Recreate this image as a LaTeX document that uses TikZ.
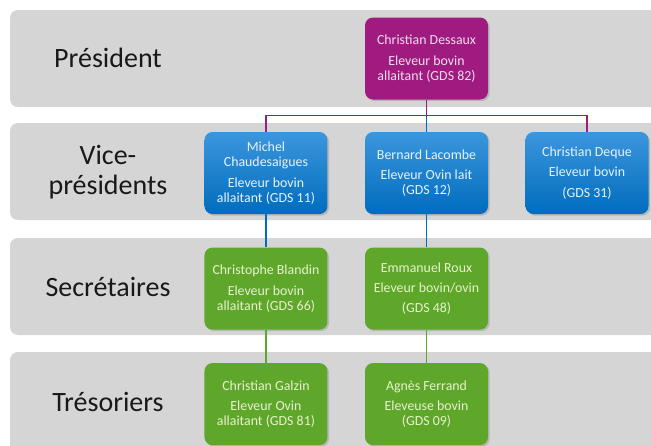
\documentclass[tikz,border=0pt]{standalone}
\usepackage{fontspec}
\setmainfont{Carlito}
\usetikzlibrary{positioning,shadows,calc}
\definecolor{bandgray}{RGB}{214,213,214}
\definecolor{presmag}{RGB}{160,27,128}
\definecolor{vicetop}{RGB}{60,150,220}
\definecolor{vicebot}{RGB}{0,108,190}
\definecolor{secgreen}{RGB}{94,167,43}
\definecolor{labtext}{RGB}{25,25,25}
\tikzset{band/.style={fill=bandgray, rounded corners=6pt}}
\tikzset{rowlabel/.style={text=labtext, font=\fontsize{21}{22}\selectfont, align=center}}
\tikzset{membox/.style={rounded corners=6pt, minimum width=92.25pt, minimum height=61.5pt, align=center, inner sep=0pt, font=\fontsize{10.4}{11.25}\selectfont, drop shadow={opacity=0.35, shadow xshift=1.2pt, shadow yshift=-1.2pt}}}
\tikzset{presbox/.style={membox, fill=presmag, text=white!85!presmag}}
\tikzset{vicebox/.style={membox, top color=vicetop, bottom color=vicebot, text=white!88!vicetop}}
\tikzset{secbox/.style={membox, fill=secgreen, text={rgb,255:red,232;green,242;blue,205}}}
\tikzset{magline/.style={draw=presmag, line width=1pt}}
\tikzset{blueline/.style={draw=vicebot, line width=1pt}}
\tikzset{greenline/.style={draw=secgreen, line width=1pt}}

\begin{document}
\begin{tikzpicture}[x=0.75pt, y=-0.75pt]
	\useasboundingbox (0,0) rectangle (651,446);
	\clip (0,0) rectangle (651,446);
	\fill[band] (10,10) rectangle (680,107);
	\fill[band] (10,123) rectangle (680,220);
	\fill[band] (10,238) rectangle (680,335);
	\fill[band] (10,352) rectangle (680,470);
	\node[rowlabel] (lpres) at (108,58) {Président};
	\node[rowlabel] (lvice) at (108,172) {Vice-\\présidents};
	\node[rowlabel] (lsec) at (108,287) {Secrétaires};
	\node[rowlabel] (ltres) at (108,402) {Trésoriers};
	\node[presbox] (dessaux) at (426.5,58.5) {Christian Dessaux\\[4pt]Eleveur bovin\\allaitant (GDS 82)};
	\node[vicebox, below=24pt of dessaux] (lacombe) {Bernard Lacombe\\[4pt]Eleveur Ovin lait\\(GDS 12)};
	\node[vicebox, left=27.75pt of lacombe] (chaudesaigues) {Michel\\Chaudesaigues\\[4pt]Eleveur bovin\\allaitant (GDS 11)};
	\node[vicebox, right=27.75pt of lacombe] (deque) {Christian Deque\\[4pt]Eleveur bovin\\[4pt](GDS 31)};
	\node[secbox, below=24.75pt of chaudesaigues] (blandin) {Christophe Blandin\\[4pt]Eleveur bovin\\allaitant (GDS 66)};
	\node[secbox, below=24.75pt of lacombe] (roux) {Emmanuel Roux\\[4pt]Eleveur bovin/ovin\\[4pt](GDS 48)};
	\node[secbox, below=24.75pt of blandin] (galzin) {Christian Galzin\\[4pt]Eleveur Ovin\\allaitant (GDS 81)};
	\node[secbox, below=24.75pt of roux] (ferrand) {Agnès Ferrand\\[4pt]Eleveuse bovin\\(GDS 09)};
	\coordinate (split) at ($(dessaux.south)!0.5!(lacombe.north)$);
	\draw[magline] (dessaux) -- (split) -| (chaudesaigues);
	\draw[magline] (split) -| (deque);
	\draw[blueline] (split) -- (lacombe);
	\draw[blueline] (chaudesaigues) -- (blandin);
	\draw[blueline] (lacombe) -- (roux);
	\draw[greenline] (blandin) -- (galzin);
	\draw[greenline] (roux) -- (ferrand);
\end{tikzpicture}
\end{document}
